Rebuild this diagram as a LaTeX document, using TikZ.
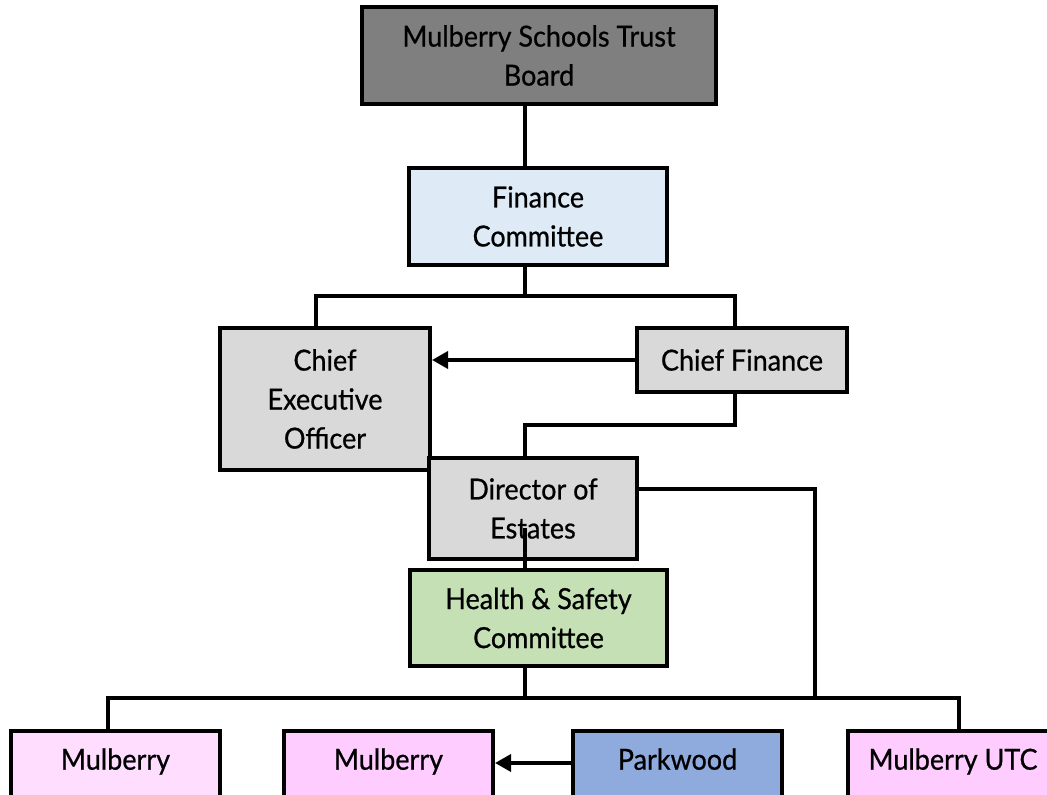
\documentclass[tikz,border=0pt]{standalone}
\usepackage{fontspec}
\setmainfont{Lato}[FakeStretch=0.93,FakeBold=0.7]
\usetikzlibrary{arrows.meta}
\definecolor{boardc}{HTML}{7F7F7F}
\definecolor{finc}{HTML}{DEEBF7}
\definecolor{grayc}{HTML}{D9D9D9}
\definecolor{hsc}{HTML}{C5E0B4}
\definecolor{pinkl}{HTML}{FFDDFF}
\definecolor{pinkc}{HTML}{FFCCFF}
\definecolor{bluec}{HTML}{8FAADC}
\tikzset{
  box/.style={draw=black, line width=4pt, inner sep=0pt, align=center,
    font=\fontsize{29}{39}\selectfont},
  conn/.style={draw=black, line width=3.5pt},
  arr/.style={conn, -{Triangle[length=16pt,width=17pt]}},
  school/.style={box, minimum width=209pt, minimum height=72pt, text depth=16pt}
}
\begin{document}
\begin{tikzpicture}[x=1pt,y=-1pt]
\useasboundingbox (0,0) rectangle (1047,795);
\clip (0,0) rectangle (1047,795);
\node[box, fill=boardc, minimum width=354pt, minimum height=97pt] (board) at (539,55.5) {Mulberry Schools Trust\\Board};
\node[box, fill=finc, minimum width=258pt, minimum height=97pt] (fin) at (538,216.5) {Finance\\Committee};
\node[box, fill=grayc, minimum width=210pt, minimum height=142pt] (ceo) at (325,399) {Chief\\Executive\\Officer};
\node[box, fill=grayc, minimum width=210pt, minimum height=64pt] (cf) at (742,360) {Chief Finance};
\node[box, fill=grayc, minimum width=208pt, minimum height=101pt] (dir) at (533,508.5) {Director of\\Estates};
\node[box, fill=hsc, minimum width=257pt, minimum height=96pt] (hs) at (538.5,618) {Health \& Safety\\Committee};
\node[school, fill=pinkl] (m1) at (115.5,767) {Mulberry};
\node[school, fill=pinkc] (m2) at (388.5,767) {Mulberry};
\node[school, fill=bluec] (pw) at (677.5,767) {Parkwood};
\node[school, fill=pinkc, minimum width=210pt] (utc) at (953,767) {Mulberry UTC};
% coordinates
\coordinate (tx) at (525,0);
\coordinate (j1) at (525,296);
\coordinate (ceox) at (316,0);
\coordinate (cfx) at (735,0);
\coordinate (j2) at (525,425);
\coordinate (dy) at (0,489);
\coordinate (j3) at (815,698);
\coordinate (est) at (525,528);
\coordinate (bus) at (525,698);
\coordinate (m1x) at (108,0);
\coordinate (m2x) at (383,0);
\coordinate (pwx) at (688,0);
\coordinate (utcx) at (959,0);
\coordinate (ay) at (0,763);
% connectors
\draw[conn] (board.south -| tx) -- (fin.north -| tx);
\draw[conn] (fin.south -| tx) -- (j1);
\draw[conn] (ceo.north -| ceox) |- (j1) -| (cf.north -| cfx);
\draw[arr] (cf.west) -- (ceo.east |- cf.west);
\draw[conn] (cf.south -| cfx) |- (j2) -- (dir.north -| j2);
\draw[conn] (dir.east |- dy) -| (j3);
\draw[conn] (est) -- (hs.north -| tx);
\draw[conn] (hs.south -| tx) -- (bus);
\draw[conn] (m1.north -| m1x) |- (bus) -| (utc.north -| utcx);
\draw[conn] (m2.north -| m2x) -- (m2.north -| m2x |- bus);
\draw[conn] (pw.north -| pwx) -- (pw.north -| pwx |- bus);
\draw[arr] (pw.west |- ay) -- (m2.east |- ay);
\end{tikzpicture}
\end{document}
